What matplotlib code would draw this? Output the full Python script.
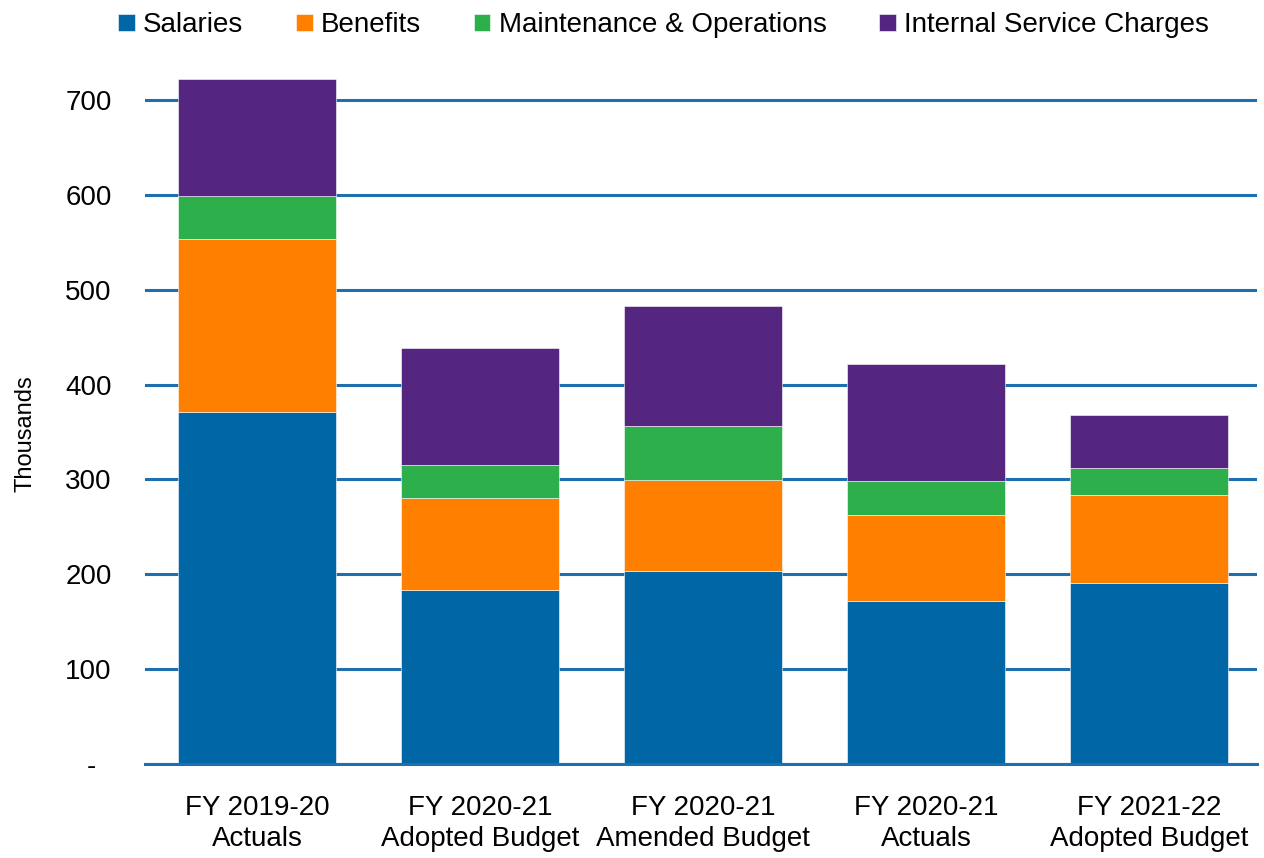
import numpy as np
import matplotlib
matplotlib.use("Agg")
import matplotlib.pyplot as plt
from matplotlib import font_manager

names = {f.name for f in font_manager.fontManager.ttflist}
FONT = "Liberation Sans Narrow" if "Liberation Sans Narrow" in names else "Liberation Sans"
plt.rcParams["font.family"] = [FONT, "DejaVu Sans"]

categories = ["FY 2019-20\nActuals", "FY 2020-21\nAdopted Budget", "FY 2020-21\nAmended Budget",
              "FY 2020-21\nActuals", "FY 2021-22\nAdopted Budget"]
salaries = [371, 183, 203, 172, 191]
benefits = [182, 97, 96, 90, 93]
maintenance = [46, 35, 57, 36, 28]
internal_service = [123, 123, 127, 124, 56]

series = [("Salaries", salaries, "#0066A6"),
          ("Benefits", benefits, "#FF8000"),
          ("Maintenance & Operations", maintenance, "#2DB04B"),
          ("Internal Service Charges", internal_service, "#55267F")]

fig = plt.figure(figsize=(12.64, 8.58), dpi=100)
ax = fig.add_axes([145/1264, 94/858, (1257-145)/1264, (764-43)/858])

x = np.arange(len(categories))
bottom = np.zeros(len(categories))
for name, vals, col in series:
    ax.bar(x, vals, 0.71, bottom=bottom, color=col, label=name, zorder=3,
           edgecolor="#ffffff", linewidth=0.4)
    bottom += np.array(vals)

ax.set_xlim(-0.502, 4.485)
ax.set_ylim(0, 760)
ax.set_yticks(range(0, 800, 100))
ax.set_yticklabels(["-  "] + [str(v) for v in range(100, 800, 100)])
ax.yaxis.grid(True, color="#1F6EAD", linewidth=2.2, zorder=1)
ax.set_axisbelow(True)
for s in ["top", "right", "left"]:
    ax.spines[s].set_visible(False)
ax.spines["bottom"].set_color("#1F6EAD")
ax.spines["bottom"].set_linewidth(2.2)
ax.spines["bottom"].set_zorder(4)
ax.tick_params(axis="both", length=0, labelsize=20)
ax.tick_params(axis="y", pad=24)
ax.tick_params(axis="x", pad=22)
ax.set_xticks(x)
ax.set_xticklabels(categories, linespacing=1.25)
ax.set_ylabel("Thousands", fontsize=17)
ax.yaxis.set_label_coords(-0.098, 0.458)

fig.legend(loc="upper center", bbox_to_anchor=(0.525, 1.015), ncol=4, frameon=False,
           fontsize=20, handlelength=0.6, handleheight=0.6, handletextpad=0.3,
           columnspacing=1.9)

fig.savefig("out.png", dpi=100)
